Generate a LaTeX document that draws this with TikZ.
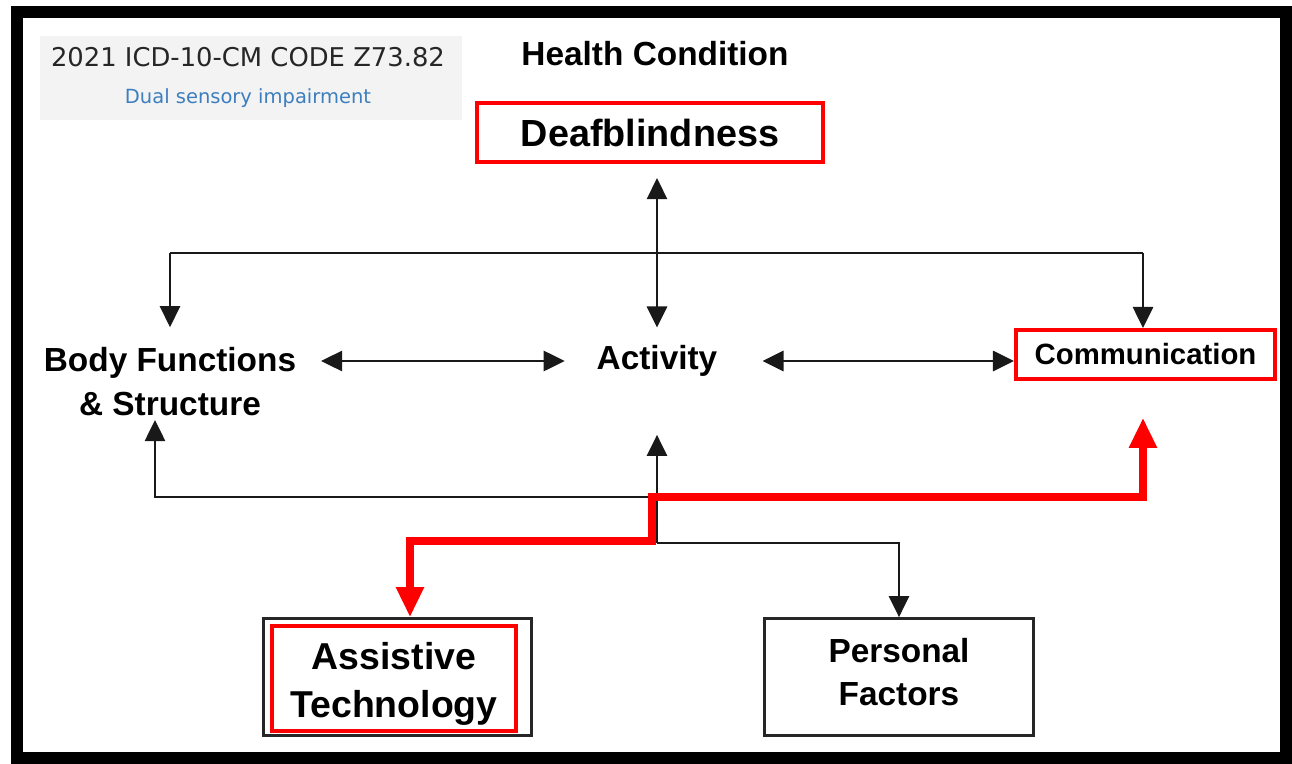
\documentclass[tikz,border=0pt]{standalone}
\usepackage{fontspec}
\setmainfont{Liberation Sans}
\newfontfamily\verdana{DejaVu Sans}
\usetikzlibrary{positioning, arrows.meta}
\definecolor{icdblue}{RGB}{61,126,190}
\definecolor{icdgray}{RGB}{243,243,243}
\tikzset{
    lbl/.style={font=\fontsize{19}{25.5}\selectfont\bfseries, inner sep=0pt, align=center},
    redbox/.style={draw=red, line width=2.3pt, inner sep=0pt, align=center},
    blkbox/.style={draw=black!85, line width=1.6pt, inner sep=0pt, align=center},
    conn/.style={line width=1.3pt, draw=black!90},
    arr/.style={conn, -{Triangle[width=11.5pt, length=12pt]}},
    biarr/.style={conn, {Triangle[width=11.5pt, length=12pt]}-{Triangle[width=11.5pt, length=12pt]}},
    redpath/.style={draw=red, line width=4pt, {Triangle[width=15pt, length=17pt]}-{Triangle[width=15pt, length=17pt]}},
}

\begin{document}
\begin{tikzpicture}[x=0.02cm, y=-0.02cm]
    \useasboundingbox (0,0) rectangle (1292,764);
    \fill[white] (0,0) rectangle (1292,764);
    \draw[line width=6.8pt] (17,12) rectangle (1286,758);

    \node[fill=icdgray, minimum width=8.44cm, minimum height=1.68cm, inner sep=0pt] (icd) at (251,78) {};
    \node[font=\verdana\fontsize{14.7}{17}\selectfont, text=black!85] (code) at (248,57) {2021 ICD-10-CM CODE Z73.82};
    \node[font=\verdana\fontsize{11.1}{13}\selectfont, text=icdblue] (desc) at (248,98) {Dual sensory impairment};

    \node[lbl] (hc) at (655,54) {Health Condition};
    \node[redbox, font=\fontsize{21.5}{26}\selectfont\bfseries, minimum width=6.92cm, minimum height=1.18cm] (deaf) at (650,132.5) {Deafblindness};

    \node[lbl] (body) at (170,381.5) {Body Functions\\\& Structure};
    \node[lbl] (act) at (657,361) {Activity};
    \node[redbox, font=\fontsize{16.7}{20}\selectfont\bfseries, minimum width=5.18cm, minimum height=0.98cm] (comm) at (1145.5,354.5) {Communication};

    \node[blkbox, minimum width=5.36cm, minimum height=2.34cm] (atout) at (397.5,677) {};
    \node[redbox, font=\fontsize{21.3}{27.2}\selectfont\bfseries, minimum width=4.88cm, minimum height=2.1cm] (at) at (394,678.5) {\rule{0pt}{22pt}Assistive\\Technology};
    \node[blkbox, font=\fontsize{19}{24.4}\selectfont\bfseries, minimum width=5.38cm, minimum height=2.34cm] (pf) at (899,677) {Personal\\Factors\rule[-5.6pt]{0pt}{0pt}};

    \coordinate (hl) at (170,253);
    \coordinate (hr) at (1143,253);
    \coordinate (bl) at (155,497);
    \coordinate (bm) at (657,497);
    \coordinate (bd) at (657,543);
    \coordinate (rm) at (652,497);
    \coordinate (rr) at (1143,497);
    \coordinate (rl) at (410,541);

    \draw[biarr, shorten <=8pt, shorten >=10pt] (deaf.south -| act.north) -- (act.north);
    \draw[conn] (hl) -- (hr);
    \draw[arr, shorten >=11pt] (hl) -- (hl |- body.north);
    \draw[arr] (hr) -- (hr |- comm.north);
    \draw[biarr, shorten <=14pt, shorten >=18pt] (act.west -| body.east) -- (act.west);
    \draw[biarr, shorten <=25.5pt] (act.east) -- (act.east -| comm.west);

    \draw[arr, shorten >=2pt] (bm) -- (bl) -- (bl |- body.south);
    \draw[arr, shorten >=33pt] (bd) -- (act.south);
    \draw[arr] (bd) -| (pf.north);
    \draw[redpath, shorten >=21pt] (rl |- atout.north) -- (rl) -| (rm) -- (rr) -- (rr |- comm.south);
\end{tikzpicture}
\end{document}
